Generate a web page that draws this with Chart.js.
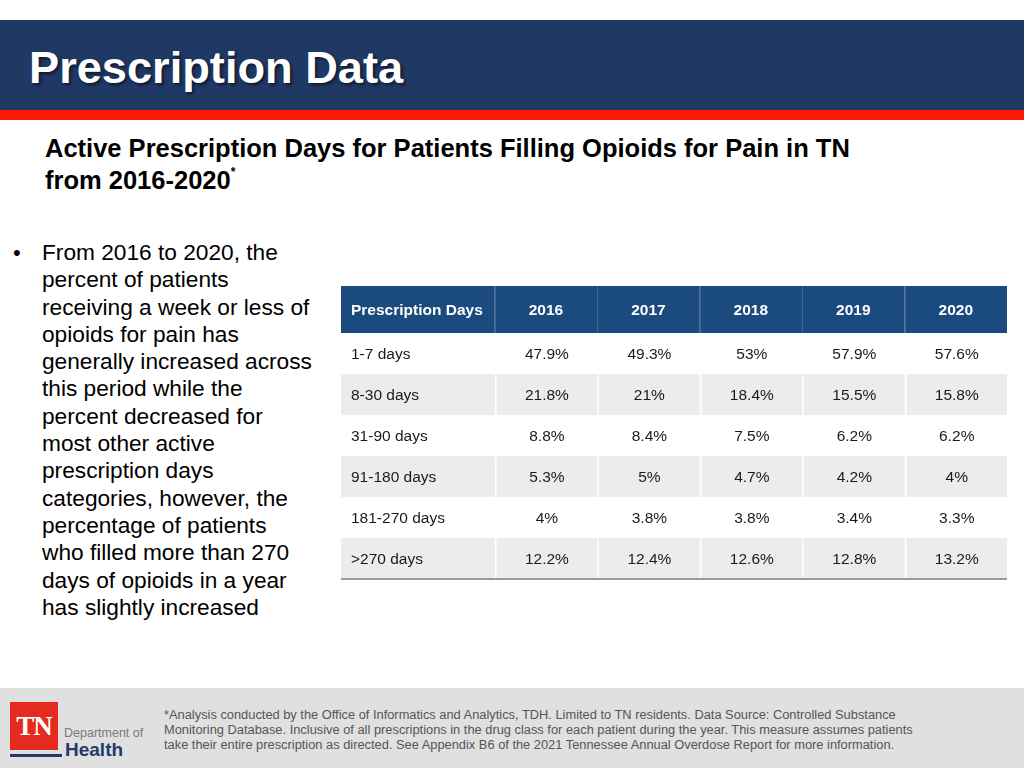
<!DOCTYPE html>
<html>
<head>
<meta charset="utf-8">
<script src="https://cdn.jsdelivr.net/npm/chart.js@4/dist/chart.umd.min.js"></script>
<style>
  html, body { margin: 0; padding: 0; }
  body { width: 1024px; height: 768px; position: relative; overflow: hidden; background: #fff; font-family: "Liberation Sans", Arial, sans-serif; }
  .band { position: absolute; left: 0; top: 20px; width: 1024px; height: 90px; background: #1f3864; }
  .stripe { position: absolute; left: 0; top: 110px; width: 1024px; height: 10px; background: #fb1a06; }
  .titre { position: absolute; left: 29px; top: 42px; color: #fff; font-weight: bold; font-size: 45.2px; line-height: 52px; text-shadow: 2px 2px 3px rgba(0,0,0,0.55); }
  .sub { position: absolute; left: 45px; top: 132px; font-weight: bold; font-size: 25.5px; line-height: 32px; color: #000; }
  .sub sup { font-size: 12px; vertical-align: 13px; line-height: 0; }
  .puce { position: absolute; left: 13px; top: 239px; font-size: 22px; line-height: 27.3px; color: #000; }
  .texte { position: absolute; left: 42px; top: 239px; font-size: 22.7px; line-height: 27.3px; color: #000; white-space: nowrap; }
  .tableau { position: absolute; left: 341px; top: 286px; width: 666px; height: 294px; }
  .pied { position: absolute; left: 0; top: 688px; width: 1024px; height: 80px; background: #e0e0e0; }
  .logo { position: absolute; left: 10px; top: 702px; width: 48px; height: 48px; background: #e52a1f; color: #fff; font-family: "Liberation Serif", serif; font-weight: bold; font-size: 27px; line-height: 48px; text-align: center; letter-spacing: -1px; }
  .dept { position: absolute; left: 64px; top: 726px; font-size: 12.5px; color: #7a7a7a; }
  .health { position: absolute; left: 65px; top: 739px; font-size: 19px; font-weight: bold; color: #1f3a6b; }
  .trait { position: absolute; left: 10px; top: 754px; width: 52px; height: 3px; background: #1f3a6b; }
  .note { position: absolute; left: 164px; top: 707px; font-size: 12.85px; line-height: 15px; color: #555; white-space: nowrap; }
</style>
</head>
<body>
<div class="band"></div>
<div class="stripe"></div>
<div class="titre">Prescription Data</div>
<div class="sub">Active Prescription Days for Patients Filling Opioids for Pain in TN<br>from 2016-2020<sup>*</sup></div>
<div class="puce">•</div>
<div class="texte">From 2016 to 2020, the<br>percent of patients<br>receiving a week or less of<br>opioids for pain has<br>generally increased across<br>this period while the<br>percent decreased for<br>most other active<br>prescription days<br>categories, however, the<br>percentage of patients<br>who filled more than 270<br>days of opioids in a year<br>has slightly increased</div>

<div class="tableau"><canvas id="grafikJadual"></canvas></div>

<div class="pied"></div>
<div class="logo">TN</div>
<div class="dept">Department of</div>
<div class="health">Health</div>
<div class="trait"></div>
<div class="note">*Analysis conducted by the Office of Informatics and Analytics, TDH. Limited to TN residents. Data Source: Controlled Substance<br>Monitoring Database. Inclusive of all prescriptions in the drug class for each patient during the year. This measure assumes patients<br>take their entire prescription as directed. See Appendix B6 of the 2021 Tennessee Annual Overdose Report for more information.</div>

<script>
// data jadual
const tajukLajur = 'Prescription Days';
const tahun = ['2016', '2017', '2018', '2019', '2020'];
const kategori = ['1-7 days', '8-30 days', '31-90 days', '91-180 days', '181-270 days', '>270 days'];
const nilai2016 = [47.9, 21.8, 8.8, 5.3, 4, 12.2];
const nilai2017 = [49.3, 21, 8.4, 5, 3.8, 12.4];
const nilai2018 = [53, 18.4, 7.5, 4.7, 3.8, 12.6];
const nilai2019 = [57.9, 15.5, 6.2, 4.2, 3.4, 12.8];
const nilai2020 = [57.6, 15.8, 6.2, 4, 3.3, 13.2];
const semuaNilai = [nilai2016, nilai2017, nilai2018, nilai2019, nilai2020];

// lajur pertama lebih lebar (1.5 unit), baris tajuk lebih tinggi
const lebarLabel = 1.5;
const tinggiTajuk = 1.15;

function batasLajur(i) {
  // i = 0 -> lajur label, 1.. -> tahun
  if (i === 0) return [0, lebarLabel];
  return [lebarLabel + i - 1, lebarLabel + i];
}
function batasBaris(r) {
  // r = -1 -> tajuk
  if (r < 0) return [0, tinggiTajuk];
  return [tinggiTajuk + r, tinggiTajuk + r + 1];
}

const pluginJadual = {
  id: 'jadual',
  afterDraw(chart) {
    const c = chart.ctx;
    const sx = chart.scales.x;
    const sy = chart.scales.y;
    const bilLajur = tahun.length + 1;

    const kotak = (i, r) => {
      const [x0, x1] = batasLajur(i);
      const [y0, y1] = batasBaris(r);
      const px0 = sx.getPixelForValue(x0), px1 = sx.getPixelForValue(x1);
      const py0 = sy.getPixelForValue(y0), py1 = sy.getPixelForValue(y1);
      return { x: px0, y: py0, w: px1 - px0, h: py1 - py0 };
    };

    c.save();
    c.textBaseline = 'middle';

    // tajuk
    for (let i = 0; i < bilLajur; i++) {
      const k = kotak(i, -1);
      c.fillStyle = '#1b4a7e';
      c.fillRect(k.x, k.y, k.w, k.h);
      c.fillStyle = '#ffffff';
      c.font = 'bold 15.5px "Liberation Sans", Arial, sans-serif';
      if (i === 0) {
        c.textAlign = 'left';
        c.fillText(tajukLajur, k.x + 10, k.y + k.h / 2 + 1.5);
      } else {
        c.textAlign = 'center';
        c.fillText(tahun[i - 1], k.x + k.w / 2, k.y + k.h / 2 + 1.5);
      }
    }
    // garis pemisah tajuk
    c.strokeStyle = '#3a6796';
    c.lineWidth = 1;
    for (let i = 1; i < bilLajur; i++) {
      const k = kotak(i, -1);
      c.beginPath();
      c.moveTo(Math.round(k.x) + 0.5, k.y);
      c.lineTo(Math.round(k.x) + 0.5, k.y + k.h);
      c.stroke();
    }

    // baris data
    kategori.forEach((nama, r) => {
      const kelabu = r % 2 === 1;
      for (let i = 0; i < bilLajur; i++) {
        const k = kotak(i, r);
        c.fillStyle = kelabu ? '#ececec' : '#ffffff';
        c.fillRect(k.x, k.y, k.w, k.h);
        if (kelabu && i > 0) {
          c.fillStyle = '#ffffff';
          c.fillRect(Math.round(k.x), k.y, 1.5, k.h);
        }
        c.fillStyle = '#1a1a1a';
        c.font = '15.5px "Liberation Sans", Arial, sans-serif';
        const tengahY = k.y + k.h / 2 + (kelabu ? 1.5 : 1);
        if (i === 0) {
          c.textAlign = 'left';
          c.fillText(nama, k.x + 10, tengahY);
        } else {
          c.textAlign = 'center';
          c.fillText(semuaNilai[i - 1][r] + '%', k.x + k.w / 2 + 1, tengahY);
        }
      }
    });

    // garis bawah
    const akhir = sy.getPixelForValue(tinggiTajuk + kategori.length);
    c.strokeStyle = '#9a9a9a';
    c.lineWidth = 2;
    c.beginPath();
    c.moveTo(sx.getPixelForValue(0), akhir);
    c.lineTo(sx.getPixelForValue(lebarLabel + tahun.length), akhir);
    c.stroke();
    c.restore();
  }
};

new Chart(document.getElementById('grafikJadual').getContext('2d'), {
  type: 'scatter',
  data: { datasets: [{ data: [] }] },
  options: {
    responsive: true,
    maintainAspectRatio: false,
    animation: false,
    layout: { padding: { top: 0, bottom: 1, left: 0, right: 0 } },
    scales: {
      x: { type: 'linear', min: 0, max: lebarLabel + tahun.length, display: false },
      y: { type: 'linear', min: 0, max: tinggiTajuk + kategori.length, reverse: true, display: false }
    },
    plugins: { legend: { display: false }, tooltip: { enabled: false } }
  },
  plugins: [pluginJadual]
});
</script>
</body>
</html>
